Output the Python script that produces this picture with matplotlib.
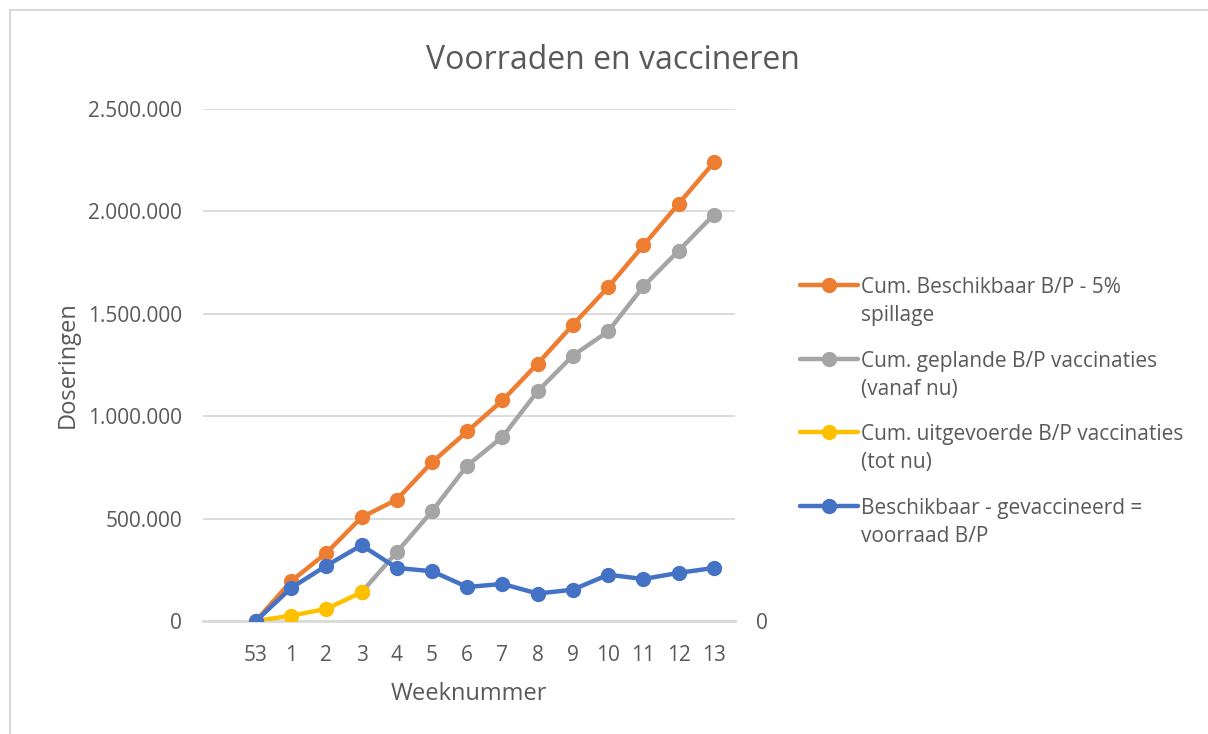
import numpy as np
import matplotlib.pyplot as plt
from matplotlib.lines import Line2D
from matplotlib.ticker import FuncFormatter

plt.rcParams['font.family'] = ['Open Sans', 'DejaVu Sans']

weeks = ["53", "1", "2", "3", "4", "5", "6", "7", "8", "9", "10", "11", "12", "13"]
beschikbaar = [0, 194000, 332000, 506000, 593000, 775000, 926000, 1077000,
               1257000, 1446000, 1630000, 1834000, 2037000, 2239000]
gepland = [np.nan, np.nan, np.nan, 140000, 336000, 536000, 759000, 899000,
           1122000, 1296000, 1414000, 1634000, 1808000, 1984000]
uitgevoerd = [0, 26000, 59000, 140000] + [np.nan] * 10
voorraad = [0, 161000, 270000, 370000, 259000, 243000, 166000, 181000,
            134000, 153000, 226000, 205000, 235000, 259000]

labels = ["Cum. Beschikbaar B/P - 5%\nspillage",
          "Cum. geplande B/P vaccinaties\n(vanaf nu)",
          "Cum. uitgevoerde B/P vaccinaties\n(tot nu)",
          "Beschikbaar - gevaccineerd =\nvoorraad B/P"]
colors = ["#ED7D31", "#A5A5A5", "#FFC000", "#4472C4"]
txt = "#595959"

W, H = 1208, 734
fig = plt.figure(figsize=(W/100, H/100), dpi=100)
ax = fig.add_axes([203/W, 1-621/H, (735-203)/W, (621-109)/H])

x = np.arange(len(weeks))
for vals, c in zip([beschikbaar, gepland, uitgevoerd, voorraad], colors):
    ax.plot(x, vals, color=c, lw=3.2, marker='o', ms=10,
            solid_capstyle='round', zorder=3)

ax.set_ylim(0, 2500000)
ax.set_xlim(-1.5, 13.6)
ax.set_yticks(np.arange(0, 2500001, 500000))
ax.yaxis.set_major_formatter(FuncFormatter(lambda v, p: f"{int(v):,}".replace(",", ".")))
ax.set_xticks(x)
ax.set_xticklabels(weeks)
ax.grid(axis='y', color='#D9D9D9', lw=1.3)
ax.set_axisbelow(True)
for s in ['top', 'right', 'left']:
    ax.spines[s].set_visible(False)
ax.spines['bottom'].set_color('#D9D9D9')
ax.spines['bottom'].set_linewidth(2)
ax.tick_params(axis='both', length=0, colors=txt, labelsize=15)
ax.tick_params(axis='y', pad=15)
ax.tick_params(axis='x', pad=17)
ax.set_xlabel("Weeknummer", color=txt, fontsize=17, labelpad=12)
ax.set_ylabel("Doseringen", color=txt, fontsize=17, labelpad=6)

ax2 = ax.twinx()
ax2.set_ylim(ax.get_ylim())
ax2.set_yticks([0])
ax2.set_yticklabels(["0"])
ax2.tick_params(axis='y', length=0, colors=txt, labelsize=15, pad=15)
for s in ax2.spines.values():
    s.set_visible(False)

fig.suptitle("Voorraden en vaccineren", x=0.507, y=0.94, color=txt, fontsize=23)

# legend drawn by hand: handle level with the first text line, like Excel
for i, (lab, c) in enumerate(zip(labels, colors)):
    yy = 1 - (285 + 73.7 * i) / H
    fig.add_artist(Line2D([800/W, 858/W], [yy, yy], color=c, lw=3.2,
                          solid_capstyle='round'))
    fig.add_artist(Line2D([829/W], [yy], color=c, marker='o', ms=10))
    for j, line in enumerate(lab.split("\n")):
        fig.text(861/W, yy - j * 28/H, line, color=txt, fontsize=15, va='center_baseline')

# chart area border (left and top edges)
fig.add_artist(Line2D([10/W, 10/W], [0, 1-10/H], color='#D9D9D9', lw=1.5))
fig.add_artist(Line2D([10/W, 1], [1-10/H, 1-10/H], color='#D9D9D9', lw=1.5))

fig.savefig("out.png", dpi=100)
